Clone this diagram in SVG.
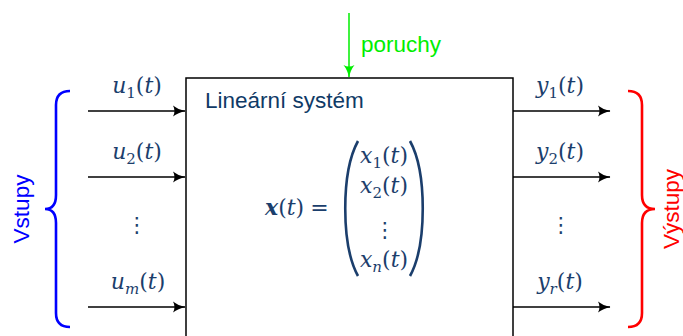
<svg xmlns="http://www.w3.org/2000/svg" width="683" height="336" viewBox="0 0 683 336">
<style>
.lbl{font-family:"Liberation Sans",Arial,sans-serif;font-size:22.5px}
.m{font-family:"DejaVu Serif","Liberation Serif",serif;font-style:italic;font-size:22px;fill:#1b3e6c}
.sub{font-size:15px;font-style:normal}
.subi{font-size:15px}
.up{font-style:normal}
.wire{stroke:#000;stroke-width:1.5;fill:none}
.dots{font-family:"DejaVu Sans",sans-serif;font-size:21px;fill:#1b3e6c}
</style>
<defs>
<marker id="ah" markerUnits="userSpaceOnUse" markerWidth="14" markerHeight="12" refX="12" refY="6" orient="auto" viewBox="0 0 14 12">
<path d="M0,0.5 Q5,4.5 12.5,6 Q5,7.5 0,11.5 Q3,6 0,0.5 z" fill="#000"/>
</marker>
<marker id="ahg" markerUnits="userSpaceOnUse" markerWidth="14" markerHeight="12" refX="12" refY="6" orient="auto" viewBox="0 0 14 12">
<path d="M0,0.5 Q5,4.5 12.5,6 Q5,7.5 0,11.5 Q3,6 0,0.5 z" fill="#00ee00"/>
</marker>
</defs>

<g id="system">
<rect x="186" y="78" width="327" height="280" fill="#fff" stroke="#000" stroke-width="1.5"/>
<text class="lbl" x="205" y="108" fill="#0f3a66">Lineární systém</text>
<text class="m" x="265" y="215"><tspan font-weight="bold">x</tspan><tspan class="up">(</tspan>t<tspan class="up">)</tspan><tspan class="up" dx="6">=</tspan></text>
<path d="M358,141 C341,172 341,245 358,276" fill="none" stroke="#1b3e6c" stroke-width="2.6"/>
<path d="M410,141 C427,172 427,245 410,276" fill="none" stroke="#1b3e6c" stroke-width="2.6"/>
<text class="m" x="384" y="163" text-anchor="middle">x<tspan class="sub" dy="5">1</tspan><tspan class="up" dy="-5">(</tspan>t<tspan class="up">)</tspan></text>
<text class="m" x="384" y="193" text-anchor="middle">x<tspan class="sub" dy="5">2</tspan><tspan class="up" dy="-5">(</tspan>t<tspan class="up">)</tspan></text>
<text class="dots" x="385" y="237" text-anchor="middle">⋮</text>
<text class="m" x="384" y="267" text-anchor="middle">x<tspan class="subi" dy="5">n</tspan><tspan class="up" dy="-5">(</tspan>t<tspan class="up">)</tspan></text>
</g>

<g id="disturbance">
<text class="lbl" x="361" y="52" fill="#00ee00">poruchy</text>
</g>

<g id="inputs">
<text class="m" x="137" y="93" text-anchor="middle">u<tspan class="sub" dy="5">1</tspan><tspan class="up" dy="-5">(</tspan>t<tspan class="up">)</tspan></text>
<text class="m" x="137" y="159" text-anchor="middle">u<tspan class="sub" dy="5">2</tspan><tspan class="up" dy="-5">(</tspan>t<tspan class="up">)</tspan></text>
<text class="dots" x="137" y="232" text-anchor="middle">⋮</text>
<text class="m" x="138" y="289" text-anchor="middle">u<tspan class="subi" dy="5">m</tspan><tspan class="up" dy="-5">(</tspan>t<tspan class="up">)</tspan></text>
<path d="M70,91 Q56,91 56,105 L56,195 Q56,209 45,209 Q56,209 56,223 L56,313 Q56,327 70,327" fill="none" stroke="#0000ff" stroke-width="2.6"/>
<text class="lbl" x="0" y="0" fill="#0000ff" text-anchor="middle" transform="translate(29,209) rotate(-90)">Vstupy</text>
</g>

<g id="outputs">
<text class="m" x="560" y="93" text-anchor="middle">y<tspan class="sub" dy="5">1</tspan><tspan class="up" dy="-5">(</tspan>t<tspan class="up">)</tspan></text>
<text class="m" x="560" y="159" text-anchor="middle">y<tspan class="sub" dy="5">2</tspan><tspan class="up" dy="-5">(</tspan>t<tspan class="up">)</tspan></text>
<text class="dots" x="561" y="232" text-anchor="middle">⋮</text>
<text class="m" x="560" y="289" text-anchor="middle">y<tspan class="subi" dy="5">r</tspan><tspan class="up" dy="-5">(</tspan>t<tspan class="up">)</tspan></text>
<path d="M628,91 Q642,91 642,105 L642,195 Q642,209 655,209 Q642,209 642,223 L642,313 Q642,327 628,327" fill="none" stroke="#ff0000" stroke-width="2.6"/>
<text class="lbl" x="0" y="0" fill="#ff0000" text-anchor="middle" transform="translate(679,209) rotate(-90)">Výstupy</text>
</g>

<g id="connectors">
<line class="wire" x1="88" y1="111" x2="185" y2="111" marker-end="url(#ah)"/>
<line class="wire" x1="88" y1="177" x2="185" y2="177" marker-end="url(#ah)"/>
<line class="wire" x1="88" y1="307" x2="185" y2="307" marker-end="url(#ah)"/>
<line class="wire" x1="513" y1="111" x2="610" y2="111" marker-end="url(#ah)"/>
<line class="wire" x1="513" y1="177" x2="610" y2="177" marker-end="url(#ah)"/>
<line class="wire" x1="513" y1="307" x2="610" y2="307" marker-end="url(#ah)"/>
<line x1="349" y1="13" x2="349" y2="77" stroke="#00ee00" stroke-width="1.5" marker-end="url(#ahg)"/>
</g>
</svg>
